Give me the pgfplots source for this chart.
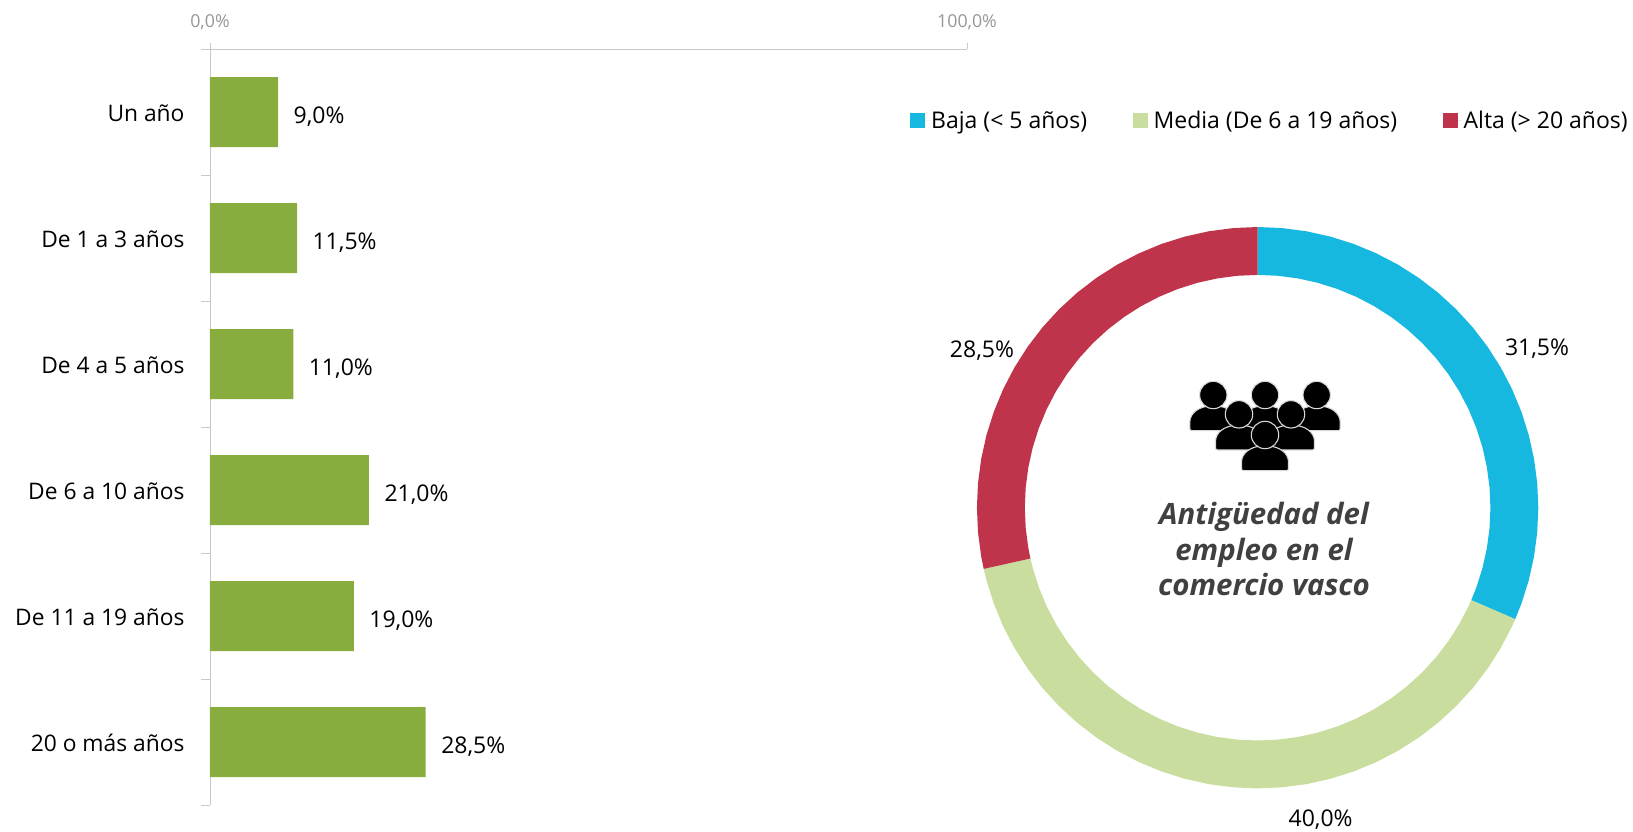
\documentclass[border=0pt]{standalone}
\usepackage{pgfplots}
\pgfplotsset{compat=1.18}
\usepackage{fontspec}
\setmainfont{Open Sans}
\definecolor{bargreen}{HTML}{88AC3E}
\definecolor{cblue}{HTML}{17B8E0}
\definecolor{clight}{HTML}{C8DD9E}
\definecolor{cred}{HTML}{C0344B}
\definecolor{axisgray}{HTML}{C8C8C8}
\definecolor{tickgray}{HTML}{969696}
\newcommand\person[2]{%
  \begin{scope}[shift={(#1,#2)}]
    \filldraw[black,draw=white!85!black,line width=1.1pt,rounded corners=2pt]
      (-23.5,35.7) -- (-23.5,29) .. controls (-23.5,18) and (-14,11) .. (0,11)
      .. controls (14,11) and (23.5,18) .. (23.5,29) -- (23.5,35.7) -- cycle;
    \filldraw[black,draw=white!85!black,line width=1.1pt] (0,0) circle (13.7);
  \end{scope}}
\begin{document}
\begin{tikzpicture}
\path[use as bounding box] (0pt,0pt) rectangle (1633pt,831pt);
% bars
\begin{axis}[
  at={(210pt,26pt)},anchor=south west,
  scale only axis,width=757pt,height=756pt,
  xmin=0,xmax=100,ymin=0,ymax=6,y dir=reverse,
  axis x line*=top,axis y line*=left,
  axis line style={axisgray,line width=0.9pt,-},
  tick align=outside,
  xtick={0,100},xticklabels={{0,0\%},{100,0\%}},
  xticklabel style={font=\fontsize{17.8}{20}\selectfont,text=tickgray,yshift=9.5pt},
  major x tick style={axisgray,line width=0.9pt},
  major tick length=6pt,
  ytick={0.5,1.5,2.5,3.5,4.5,5.5},
  yticklabels={Un año,De 1 a 3 años,De 4 a 5 años,De 6 a 10 años,De 11 a 19 años,20 o más años},
  yticklabel style={font=\fontsize{22.8}{26}\selectfont,xshift=-16pt,yshift=-1pt},
  major y tick style={draw=none},
  minor ytick={0,1,2,3,4,5,6},
  minor y tick style={axisgray,line width=0.9pt},
  minor tick length=9pt,
  xbar,bar width=70pt,
  clip=false,
]
\addplot[fill=bargreen,draw=none,
  point meta=explicit symbolic,
  nodes near coords,
  every node near coord/.append style={font=\fontsize{23}{26}\selectfont,text=black,anchor=west,xshift=12pt,yshift=-4.5pt}]
 coordinates {(9,0.5)[9,0\%] (11.5,1.5)[11,5\%] (11,2.5)[11,0\%] (21,3.5)[21,0\%] (19,4.5)[19,0\%] (28.5,5.5)[28,5\%]};
\end{axis}
% doughnut
\begin{axis}[
  at={(0pt,0pt)},anchor=south west,
  scale only axis,width=1633pt,height=831pt,
  xmin=-1257.6,xmax=375.4,ymin=-323.3,ymax=507.7,
  axis lines=none,clip=false,
  legend columns=3,
  legend style={draw=none,fill=none,at={(axis cs:-347.6,387.2)},anchor=west,
    font=\fontsize{23}{26}\selectfont,inner sep=0pt,
    /tikz/every even column/.append style={column sep=43.5pt}},
  legend cell align=left,
  legend image code/.code={\fill[#1] (0pt,-7.5pt) rectangle (15pt,7.5pt);\path (0pt,0pt) -- (19pt,0pt);},
]
\addplot[fill=cblue,draw=none,data cs=polar] coordinates {
 (90,280.7)(85,280.7)(80,280.7)(75,280.7)(70,280.7)(65,280.7)(60,280.7)(55,280.7)(50,280.7)(45,280.7)(40,280.7)(35,280.7)(30,280.7)(25,280.7)(20,280.7)(15,280.7)(10,280.7)(5,280.7)(0,280.7)(-5,280.7)(-10,280.7)(-15,280.7)(-20,280.7)(-23.4,280.7)
 (-23.4,232.8)(-20,232.8)(-15,232.8)(-10,232.8)(-5,232.8)(0,232.8)(5,232.8)(10,232.8)(15,232.8)(20,232.8)(25,232.8)(30,232.8)(35,232.8)(40,232.8)(45,232.8)(50,232.8)(55,232.8)(60,232.8)(65,232.8)(70,232.8)(75,232.8)(80,232.8)(85,232.8)(90,232.8)};
\addlegendentry{Baja (< 5 años)}
\addplot[fill=clight,draw=none,data cs=polar] coordinates {
 (-23.4,280.7)(-25,280.7)(-30,280.7)(-35,280.7)(-40,280.7)(-45,280.7)(-50,280.7)(-55,280.7)(-60,280.7)(-65,280.7)(-70,280.7)(-75,280.7)(-80,280.7)(-85,280.7)(-90,280.7)(-95,280.7)(-100,280.7)(-105,280.7)(-110,280.7)(-115,280.7)(-120,280.7)(-125,280.7)(-130,280.7)(-135,280.7)(-140,280.7)(-145,280.7)(-150,280.7)(-155,280.7)(-160,280.7)(-165,280.7)(-167.4,280.7)
 (-167.4,232.8)(-165,232.8)(-160,232.8)(-155,232.8)(-150,232.8)(-145,232.8)(-140,232.8)(-135,232.8)(-130,232.8)(-125,232.8)(-120,232.8)(-115,232.8)(-110,232.8)(-105,232.8)(-100,232.8)(-95,232.8)(-90,232.8)(-85,232.8)(-80,232.8)(-75,232.8)(-70,232.8)(-65,232.8)(-60,232.8)(-55,232.8)(-50,232.8)(-45,232.8)(-40,232.8)(-35,232.8)(-30,232.8)(-25,232.8)(-23.4,232.8)};
\addlegendentry{Media (De 6 a 19 años)}
\addplot[fill=cred,draw=none,data cs=polar] coordinates {
 (-167.4,280.7)(-170,280.7)(-175,280.7)(-180,280.7)(-185,280.7)(-190,280.7)(-195,280.7)(-200,280.7)(-205,280.7)(-210,280.7)(-215,280.7)(-220,280.7)(-225,280.7)(-230,280.7)(-235,280.7)(-240,280.7)(-245,280.7)(-250,280.7)(-255,280.7)(-260,280.7)(-265,280.7)(-270,280.7)
 (-270,232.8)(-265,232.8)(-260,232.8)(-255,232.8)(-250,232.8)(-245,232.8)(-240,232.8)(-235,232.8)(-230,232.8)(-225,232.8)(-220,232.8)(-215,232.8)(-210,232.8)(-205,232.8)(-200,232.8)(-195,232.8)(-190,232.8)(-185,232.8)(-180,232.8)(-175,232.8)(-170,232.8)(-167.4,232.8)};
\addlegendentry{Alta (> 20 años)}
\end{axis}
\begin{scope}[x=1pt,y=-1pt,shift={(0pt,831pt)}]
  \node[font=\fontsize{23}{26}\selectfont] at (1537,349) {31,5\%};
  \node[font=\fontsize{23}{26}\selectfont] at (982,351) {28,5\%};
  \node[font=\fontsize{23}{26}\selectfont] at (1320.6,819.6) {40,0\%};
  \person{1213.3}{395}\person{1265}{395}\person{1316.7}{395}
  \person{1239}{414.3}\person{1291}{414.3}
  \person{1265}{435}
  \node[font=\fontsize{29.4}{35.8}\selectfont\bfseries\itshape,text=black!75,align=center] at (1264,549) {Antigüedad del\\empleo en el\\comercio vasco};
\end{scope}
\end{tikzpicture}
\end{document}
